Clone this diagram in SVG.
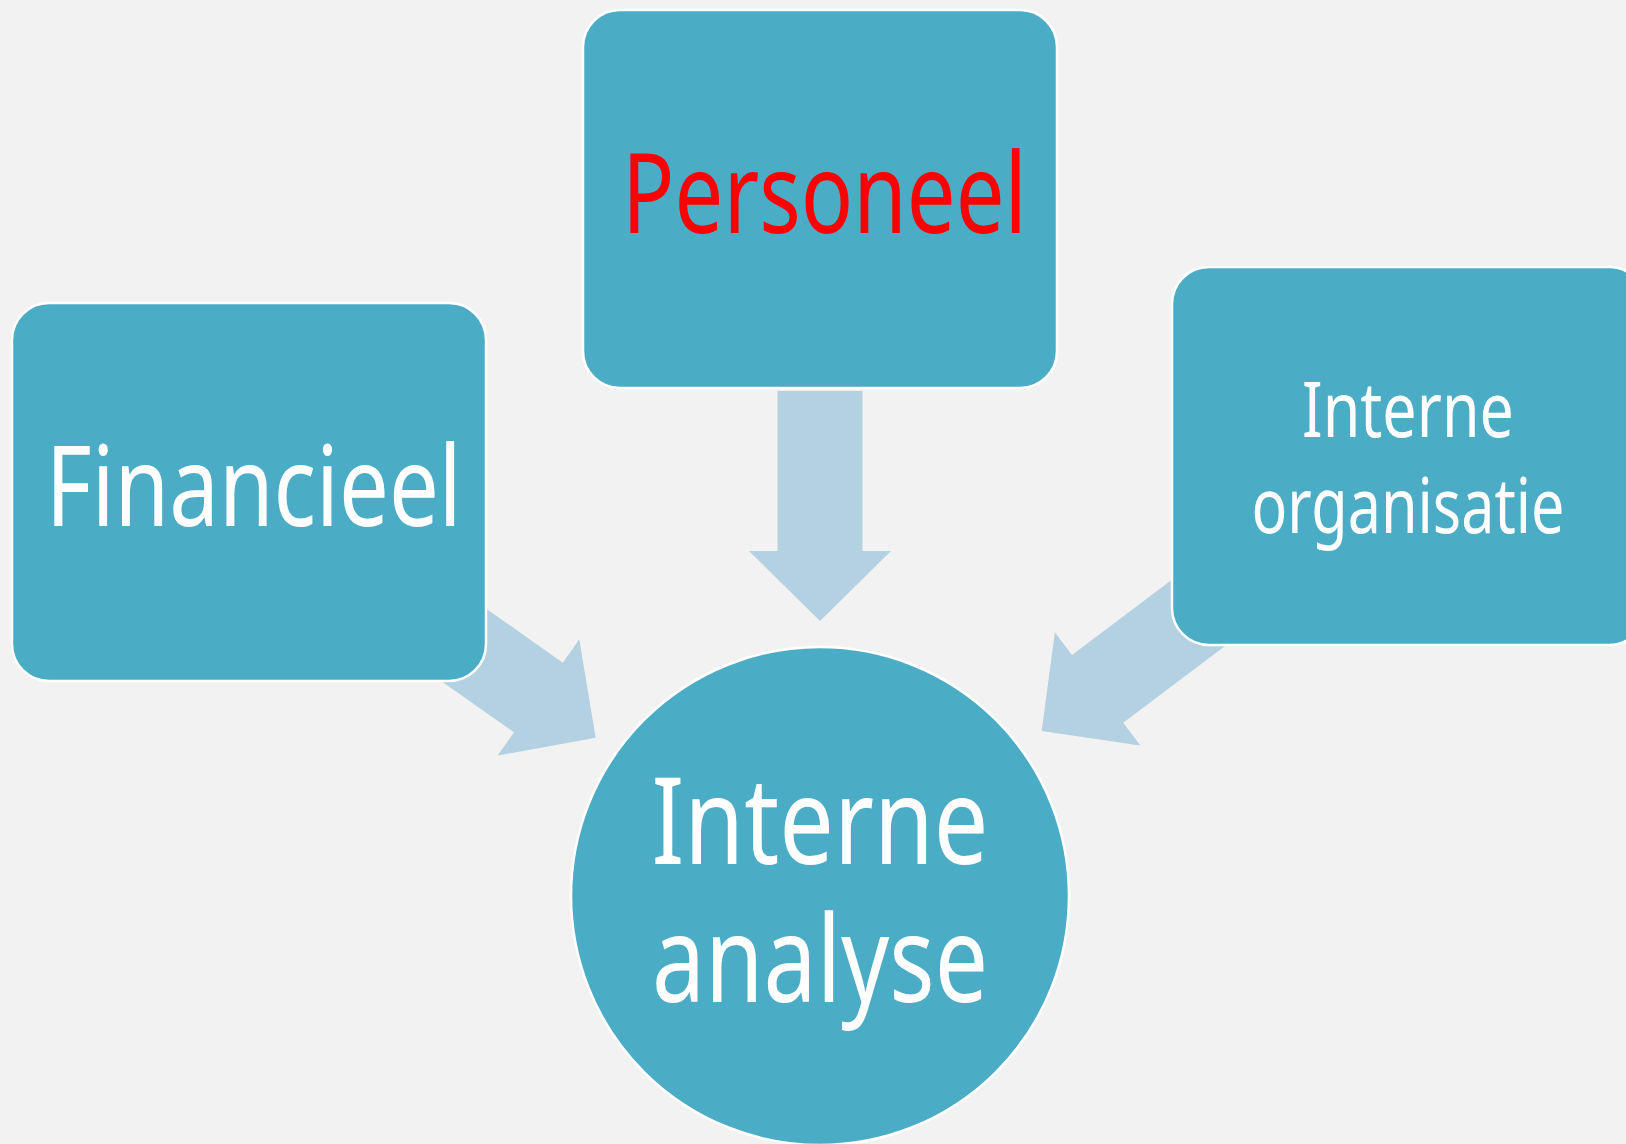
<svg xmlns="http://www.w3.org/2000/svg" width="1626" height="1144" viewBox="0 0 1626 1144">
<defs>
<style>
.node{fill:#4BACC6;stroke:#FFFFFF;stroke-width:2.5}
.arrow{fill:#B3D1E1}
.lbl{font-family:"Noto Sans","Open Sans",sans-serif;fill:#FFFFFF;text-anchor:middle}
.red{fill:#FF0000}
</style>
<path id="arr" d="M0,0 L-70,-71 L-70,-42.5 L-230,-42.5 L-230,42.5 L-70,42.5 L-70,71 Z"/>
</defs>
<rect width="1626" height="1144" fill="#F2F2F2"/>
<g id="connectors">
<use href="#arr" class="arrow" transform="translate(820,621) rotate(90)"/>
<use href="#arr" class="arrow" transform="translate(595.7,737.7) rotate(35.1)"/>
<use href="#arr" class="arrow" transform="translate(1041.7,731) rotate(143)"/>
</g>
<g id="personeel">
<rect class="node" x="583" y="10" width="474" height="378" rx="37" ry="37"/>
<text class="lbl red" x="824.5" y="233" font-size="111" textLength="405" lengthAdjust="spacingAndGlyphs">Personeel</text>
</g>
<g id="financieel">
<rect class="node" x="12" y="303" width="474" height="378" rx="37" ry="37"/>
<text class="lbl" x="253.7" y="526" font-size="112" textLength="416" lengthAdjust="spacingAndGlyphs">Financieel</text>
</g>
<g id="interne-organisatie">
<rect class="node" x="1172" y="267" width="474" height="378" rx="37" ry="37"/>
<text class="lbl" x="1408" y="437" font-size="76" textLength="212" lengthAdjust="spacingAndGlyphs">Interne</text>
<text class="lbl" x="1408" y="533" font-size="76" textLength="313" lengthAdjust="spacingAndGlyphs">organisatie</text>
</g>
<g id="interne-analyse">
<circle class="node" cx="820" cy="896" r="249"/>
<text class="lbl" x="820" y="864" font-size="121" textLength="337" lengthAdjust="spacingAndGlyphs">Interne</text>
<text class="lbl" x="820" y="1002" font-size="121" textLength="336" lengthAdjust="spacingAndGlyphs">analyse</text>
</g>
</svg>
